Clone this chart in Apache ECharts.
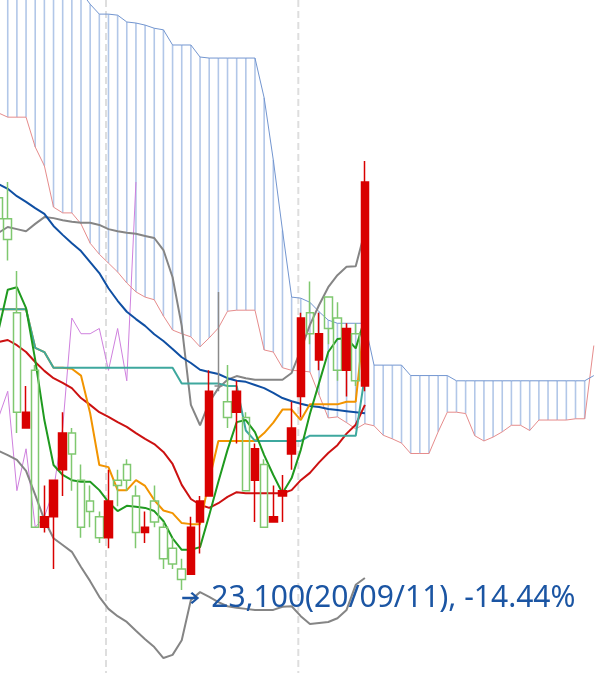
<!DOCTYPE html>
<html><head><meta charset="utf-8">
<script src="https://cdn.jsdelivr.net/npm/echarts@6/dist/echarts.min.js"></script>
<style>html,body{margin:0;padding:0;background:#fff;overflow:hidden}#c{position:absolute;left:-6px;top:0;width:607px;height:673px}</style>
</head><body><div id="c"></div>
<script>
// trading days (yy/mm/dd)
const dates = ['20/08/13','20/08/14','20/08/18','20/08/19','20/08/20','20/08/21','20/08/24','20/08/25','20/08/26','20/08/27','20/08/28','20/08/31',
 '20/09/01','20/09/02','20/09/03','20/09/04','20/09/07','20/09/08','20/09/09','20/09/10','20/09/11','20/09/14','20/09/15','20/09/16','20/09/17','20/09/18',
 '20/09/21','20/09/22','20/09/23','20/09/24','20/09/25','20/09/28','20/09/29','20/10/05','20/10/06','20/10/07','20/10/08','20/10/12','20/10/13','20/10/14','20/10/15'];
const futureSlots = 25;

const opens  = [26850,26650,25750,24650,25200,23700,23800,24250,24600,24150,23950,23800,23600,24150,24300,24000,23650,23950,23700,23500,23300,23250,23750,24000,25050,24900,24800,24750,24150,24300,23750,24000,24400,24950,25750,25300,25900,25700,25200,25550,25050];
const closes = [26650,26450,24800,24800,23700,23800,24150,24600,24400,23700,23850,23600,23950,24100,24150,23650,23700,23750,23400,23350,23200,23700,23950,25000,25050,24750,25000,24050,24450,23700,23800,24050,24650,25700,25550,25550,25600,25200,25600,25100,27000];
const lows   = [26600,26250,24600,24650,23700,23650,23300,24000,24050,23600,23700,23550,23500,23900,24050,23500,23550,23700,23300,23300,23100,23250,23450,24000,25000,24650,24500,24050,23750,23700,23750,23750,24250,24750,25450,25200,25450,25100,24950,25050,25000];
const highs  = [26900,27000,26150,25050,25250,24100,24150,24800,24650,24300,24100,23850,24250,24250,24350,24100,23850,24100,23750,23600,23400,23800,24000,25200,25950,25250,25100,24800,24500,24350,24100,24200,24900,25750,26050,25750,25900,25850,25650,25650,27200];

const ma5  = [25585,25970,25995,25795,25300,24725,24295,24200,24150,24135,24135,24055,23940,23855,23905,23895,23885,23855,23760,23595,23485,23485,23510,23815,24135,24440,24705,24725,24610,24390,24200,24025,24170,24440,24785,25080,25375,25500,25510,25410,25700];
const ma20 = [25470,25490,25440,25375,25280,25195,25125,25080,25030,24935,24870,24800,24755,24705,24660,24600,24545,24495,24420,24305,24105,23970,23915,23885,23930,23990,24035,24025,24025,24025,24025,24025,24055,24150,24220,24320,24410,24485,24595,24680,24870];
const ma60 = [26980,26935,26865,26810,26750,26695,26580,26495,26415,26340,26235,26130,25985,25865,25760,25690,25625,25545,25480,25405,25325,25270,25205,25185,25165,25125,25100,25090,25060,25030,24985,24935,24905,24880,24860,24850,24830,24820,24810,24800,24790];
const bbUpper = [26515,26570,26550,26530,26600,26665,26655,26635,26620,26610,26610,26590,26550,26530,26515,26505,26485,26465,26350,26090,25625,24870,24675,24895,25030,25110,25145,25125,25110,25110,25110,25110,25175,25395,25635,25825,25995,26110,26190,26195,26530];
const bbLower = [24430,24390,24345,24240,24010,23770,23595,23530,23465,23320,23185,23035,22920,22850,22795,22710,22630,22555,22450,22480,22620,23005,23080,23035,22985,22945,22930,22920,22910,22910,22910,22940,22945,22850,22775,22785,22795,22830,22910,23150,23215];
const tenkan = [25785,25785,25785,25785,25415,25375,25225,25225,25215,25150,24790,24295,24275,24055,24055,24150,24095,23960,23860,23835,23740,23730,23730,24150,24525,24525,24525,24525,24525,24600,24700,24825,24825,24725,24875,24875,24875,24875,24900,24900,25725];
const kijun  = [25785,25785,25785,25785,25415,25375,25225,25225,25225,25225,25225,25225,25225,25225,25225,25225,25225,25225,25225,25225,25075,25075,25075,25075,25075,25050,25050,24625,24525,24525,24525,24525,24525,24525,24575,24575,24575,24575,24575,24575,25150];
const lagging = [24750,25000,24050,24450,23700,23800,24050,24650,25700,25550,25550,25600,25200,25600,25100,27000];
const spanA = [27660,27620,27620,27620,27335,27155,26760,26705,26705,26600,26415,26310,26225,26140,26035,25950,25900,25875,25720,25585,25550,25520,25425,25510,25605,25765,25775,25775,25775,25395,25375,25225,25200,25195,25185,24965,24745,24755,24700,24640,24690,24670,24580,24545,24505,24405,24405,24405,24612,24800,24800,24787,24575,24525,24562,24612,24675,24675,24625,24725,24725,24725,24725,24737,24737,25437];
const spanB = [29300,29250,29200,29150,29100,29050,29000,28950,28900,28820,28700,28605,28605,28595,28530,28520,28500,28470,28455,28310,28310,28310,28195,28185,28185,28185,28185,28185,28185,27805,27210,26540,25900,25890,25850,25760,25680,25650,25650,25650,25650,25250,25250,25250,25250,25150,25150,25150,25150,25150,25100,25100,25100,25100,25100,25100,25100,25100,25100,25100,25100,25100,25100,25100,25100,25150];

const yMin = 22307, yMax = 28740;

const cats = dates.concat(Array.from({length: futureSlots}, (_, k) => '+' + (k + 1)));
const N = cats.length;
const pad = arr => arr.concat(new Array(N - arr.length).fill(null));

const candleData = dates.map((d, i) => {
  const item = { value: [opens[i], closes[i], lows[i], highs[i]] };
  if (opens[i] === closes[i]) item.itemStyle = { color: '#8a8a8a', borderColor: '#8a8a8a', borderColor0: '#8a8a8a' };
  return item;
});

// lowest low marker
let lowIdx = 0;
lows.forEach((v, i) => { if (v < lows[lowIdx]) lowIdx = i; });
const lastClose = closes[closes.length - 1];
const lowVal = lows[lowIdx];
const pct = ((lowVal - lastClose) / lastClose * 100).toFixed(2);
const lowText = lowVal.toLocaleString('en-US') + '(' + dates[lowIdx] + '), ' + pct + '%';

// month starts (category indices)
const monthStartIdx = [];
for (let i = 1; i < dates.length; i++) if (dates[i].slice(3, 5) !== dates[i - 1].slice(3, 5)) monthStartIdx.push(i);

const lineS = (name, data, color, width, z) => ({
  name, type: 'line', data: pad(data), symbol: 'none', showSymbol: false, silent: true,
  lineStyle: { color, width }, itemStyle: { color }, z, animation: false
});

const arrowPath = 'path://M0,5.2 L12.5,5.2 L8.2,1.6 L10,0 L17,6.5 L10,13 L8.2,11.4 L12.5,7.8 L0,7.8 Z';

const chart = echarts.init(document.getElementById('c'), null, { renderer: 'canvas' });
chart.setOption({
  animation: false,
  backgroundColor: '#ffffff',
  grid: { left: 0, right: 2.6, top: 0, bottom: 0, containLabel: false },
  xAxis: { type: 'category', data: cats, boundaryGap: true, show: false },
  yAxis: { type: 'value', min: yMin, max: yMax, show: false, splitLine: { show: false } },
  series: [
    {
      type: 'custom', name: 'months', z: 1, silent: true,
      data: monthStartIdx.map(k => [k, yMax]),
      encode: { x: 0, y: 1 },
      renderItem: (params, api) => {
        const cs = params.coordSys;
        const x = api.coord([api.value(0), yMax])[0] - api.size([1, 0])[0] * 0.27;
        return { type: 'line', shape: { x1: x, y1: cs.y, x2: x, y2: cs.y + cs.height },
          style: { stroke: '#dedede', lineWidth: 2, lineDash: [7, 4] } };
      }
    },
    {
      type: 'custom', name: 'cloud', z: 1, silent: true,
      data: spanA.map((a, k) => [k, a, spanB[k]]),
      encode: { x: 0, y: [1, 2] },
      renderItem: (params, api) => {
        const a = api.value(1), b = api.value(2);
        if (!(b > a)) return null;
        const p1 = api.coord([api.value(0), a]);
        const p2 = api.coord([api.value(0), b]);
        return { type: 'line', shape: { x1: p1[0], y1: p1[1], x2: p2[0], y2: p2[1] },
          style: { stroke: '#b2c7e8', lineWidth: 1.6 } };
      }
    },
    lineS('lagging', lagging, '#cf80de', 1, 2),
    lineS('spanA', spanA, '#e68c8c', 1, 2),
    lineS('spanB', spanB, '#7396d0', 1, 2),
    lineS('bbUpper', bbUpper, '#858585', 2, 3),
    lineS('bbLower', bbLower, '#858585', 2, 3),
    lineS('ma60', ma60, '#0f4fa3', 2, 3),
    lineS('ma20', ma20, '#cc1111', 2, 3),
    lineS('tenkan', tenkan, '#f29400', 2, 3),
    lineS('kijun', kijun, '#3ea89e', 2, 3),
    lineS('ma5', ma5, '#1f9a1f', 2, 3),
    {
      type: 'candlestick', name: 'price', z: 6, barWidth: 8, silent: true,
      data: candleData,
      itemStyle: { color: '#d90000', color0: 'rgba(255,255,255,0)', borderColor: '#d90000',
        borderColor0: '#7fc86f', borderColorDoji: '#8a8a8a', borderWidth: 1.5 },
      markPoint: {
        silent: true,
        data: [{
          coord: [dates[lowIdx], lowVal], value: lowVal,
          symbol: arrowPath, symbolSize: [17, 12], symbolOffset: [9, 8], symbolKeepAspect: false,
          itemStyle: { color: '#1b55a3' }
        }],
        label: {
          show: true, position: 'right', distance: 12,
          formatter: () => lowText,
          fontFamily: 'Noto Sans', fontSize: 30, color: '#1b55a3'
        }
      }
    }
  ]
});
</script>
</body></html>
